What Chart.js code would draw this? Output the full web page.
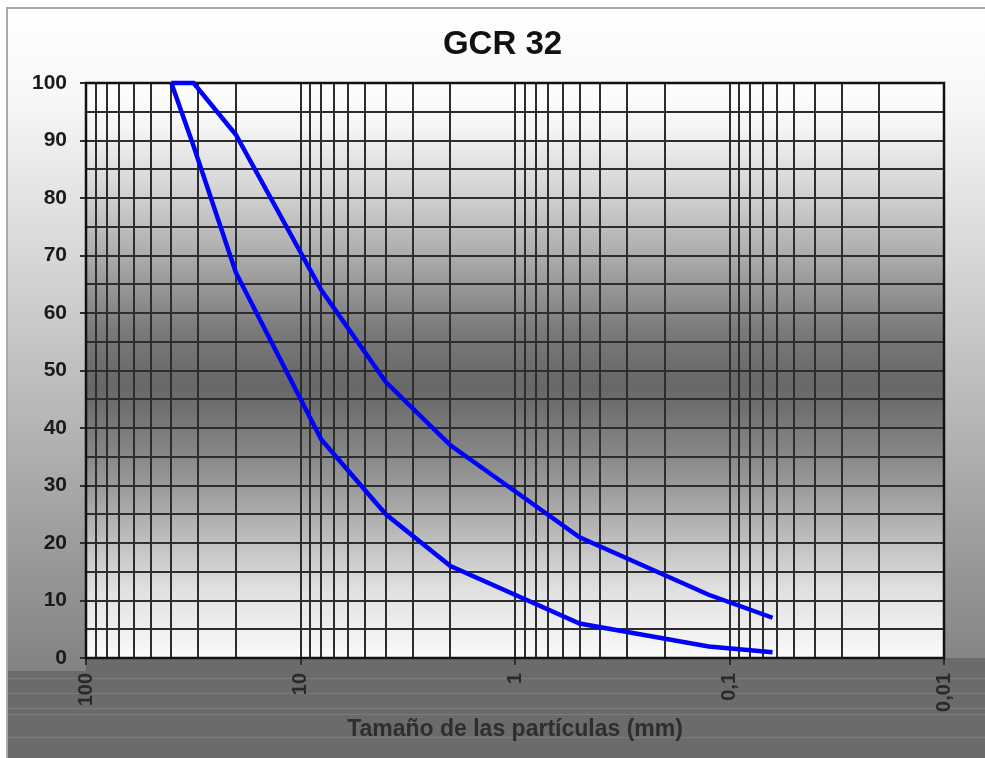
<!DOCTYPE html>
<html>
<head>
<meta charset="utf-8">
<title>GCR 32</title>
<script src="https://cdn.jsdelivr.net/npm/chart.js@4.4.0/dist/chart.umd.min.js"></script>
<style>
    html, body { margin: 0; padding: 0; background: #fff; }
    #wrap { width: 985px; height: 758px; }
</style>
</head>
<body>
<div id="wrap"><canvas id="gcr32"></canvas></div>
<script>
(function () {
    "use strict";

    // tamices (mm) y % que pasa
    var sieves = [40, 31.5, 20, 8, 4, 2, 1, 0.5, 0.25, 0.125, 0.063];
    var upperLimit = [100, 100, 91, 64, 48, 37, 29, 21, 16, 11, 7];
    var lowerLimit = [100, 89, 67, 38, 25, 16, 11, 6, 4, 2, 1];

    var decades = [100, 10, 1, 0.1, 0.01];
    var decadeLabels = ["100", "10", "1", "0,1", "0,01"];
    var yMin = 0, yMax = 100, yStep = 5, yLabelStep = 10;

    var fontFamily = "'Liberation Sans', Arial, sans-serif";

    // log grid: 1..9 in every decade
    var gridValues = [];
    decades.forEach(function (d) {
        if (d === decades[0]) { gridValues.push(d); return; }
        for (var m = 1; m <= 9; m++) {
            gridValues.push(Number((d * m).toPrecision(6)));
        }
    });

    function decadeIndex(v) {
        return decades.indexOf(Number(Number(v).toPrecision(6)));
    }

    function toPoints(values) {
        return sieves.map(function (s, i) {
            return { x: s, y: values[i] };
        });
    }

    var backdrop = {
        id: "backdrop",
        beforeDraw: function (chart) {
            var ctx = chart.ctx, a = chart.chartArea, w = chart.width, h = chart.height;
            ctx.save();
            ctx.fillStyle = "#ffffff";
            ctx.fillRect(0, 0, w, h);

            var g = ctx.createLinearGradient(0, 7, 0, a.bottom + 10);
            g.addColorStop(0, "#ffffff");
            g.addColorStop(0.14, "#f7f7f7");
            g.addColorStop(1, "#838383");
            ctx.fillStyle = g;
            ctx.fillRect(6, 7, w - 6, h - 7);

            // dark band under the plot
            ctx.fillStyle = "#6b6b6b";
            ctx.fillRect(a.left, a.bottom, w - a.left, 14);
            ctx.fillRect(6, a.bottom + 13, w - 6, h - a.bottom - 13);
            ctx.strokeStyle = "#7d7d7d";
            ctx.lineWidth = 1;
            [20, 35, 50, 56, 79].forEach(function (dy) {
                ctx.beginPath();
                ctx.moveTo(6, a.bottom + dy + 0.5);
                ctx.lineTo(w, a.bottom + dy + 0.5);
                ctx.stroke();
            });

            // frame
            ctx.strokeStyle = "#a9a9a9";
            ctx.lineWidth = 2;
            ctx.beginPath();
            ctx.moveTo(7, h);
            ctx.lineTo(7, 8);
            ctx.lineTo(w, 8);
            ctx.stroke();

            // plot area
            var pg = ctx.createLinearGradient(0, a.top, 0, a.bottom);
            pg.addColorStop(0, "#ffffff");
            pg.addColorStop(0.08, "#f4f4f4");
            pg.addColorStop(0.2, "#cfcfcf");
            pg.addColorStop(0.31, "#a8a8a8");
            pg.addColorStop(0.43, "#7a7a7a");
            pg.addColorStop(0.53, "#676767");
            pg.addColorStop(0.64, "#858585");
            pg.addColorStop(0.76, "#b0b0b0");
            pg.addColorStop(0.88, "#e0e0e0");
            pg.addColorStop(1, "#fafafa");
            ctx.fillStyle = pg;
            ctx.fillRect(a.left, a.top, a.width, a.height);
            ctx.restore();
        },
        beforeDatasetsDraw: function (chart) {
            var ctx = chart.ctx, a = chart.chartArea;
            ctx.save();
            ctx.strokeStyle = "#111111";
            ctx.lineWidth = 2.5;
            ctx.strokeRect(a.left, a.top, a.width, a.height);
            ctx.restore();
        }
    };

    var ctx = document.getElementById("gcr32").getContext("2d");
    var gcrChart = new Chart(ctx, {
        type: "line",
        data: {
            datasets: [
                {
                    label: "Límite superior",
                    data: toPoints(upperLimit),
                    borderColor: "#0000ff",
                    borderWidth: 4.5,
                    pointRadius: 0,
                    tension: 0,
                    fill: false,
                    clip: 4,
                },
                {
                    label: "Límite inferior",
                    data: toPoints(lowerLimit),
                    borderColor: "#0000ff",
                    borderWidth: 4.5,
                    pointRadius: 0,
                    tension: 0,
                    fill: false,
                    clip: 4,
                },
            ],
        },
        options: {
            responsive: true,
            maintainAspectRatio: false,
            animation: false,
            layout: {
                padding: { left: 20, right: 0, top: 0, bottom: 0 },
            },
            scales: {
                x: {
                    type: "logarithmic",
                    reverse: true,
                    min: decades[decades.length - 1],
                    max: decades[0],
                    afterBuildTicks: function (scale) {
                        scale.ticks = gridValues.map(function (v) {
                            return { value: v };
                        });
                    },
                    afterFit: function (scale) {
                        scale.height = 100;
                    },
                    grid: {
                        color: "#2d2d2d",
                        lineWidth: 2,
                        tickLength: 7,
                        tickColor: function (c) {
                            return c.tick && decadeIndex(c.tick.value) >= 0 ? "#2d2d2d" : "rgba(0,0,0,0)";
                        },
                    },
                    border: { display: false },
                    ticks: {
                        autoSkip: false,
                        minRotation: 90,
                        maxRotation: 90,
                        padding: 8,
                        color: "#2a2a2a",
                        font: { family: fontFamily, size: 20, weight: "bold" },
                        callback: function (value) {
                            var i = decadeIndex(value);
                            return i >= 0 ? decadeLabels[i] : "";
                        },
                    },
                    title: {
                        display: true,
                        text: "Tamaño de las partículas (mm)",
                        color: "#2e2e2e",
                        font: { family: fontFamily, size: 23, weight: "bold" },
                        padding: { top: 0, bottom: 15 },
                    },
                },
                y: {
                    min: yMin,
                    max: yMax,
                    afterFit: function (scale) {
                        scale.width = 66;
                    },
                    grid: {
                        color: "#2d2d2d",
                        lineWidth: 2,
                        tickLength: 6,
                        tickColor: function (c) {
                            return c.tick && c.tick.value % yLabelStep === 0 ? "#2d2d2d" : "rgba(0,0,0,0)";
                        },
                    },
                    border: { display: false },
                    ticks: {
                        stepSize: yStep,
                        autoSkip: false,
                        padding: 13,
                        color: "#1a1a1a",
                        font: { family: fontFamily, size: 21, weight: "bold" },
                        callback: function (value) {
                            return value % yLabelStep === 0 ? value : "";
                        },
                    },
                },
                // empty strip on the right of the plot
                yRight: {
                    position: "right",
                    afterFit: function (scale) {
                        scale.width = 41;
                    },
                    grid: { display: false },
                    border: { display: false },
                    ticks: { display: false },
                },
            },
            plugins: {
                legend: { display: false },
                tooltip: { enabled: false },
                title: {
                    display: true,
                    text: "GCR 32",
                    color: "#111111",
                    font: { family: fontFamily, size: 33, weight: "bold" },
                    padding: { top: 25, bottom: 18.4 },
                },
            },
        },
        plugins: [backdrop],
    });
})();
</script>
</body>
</html>
